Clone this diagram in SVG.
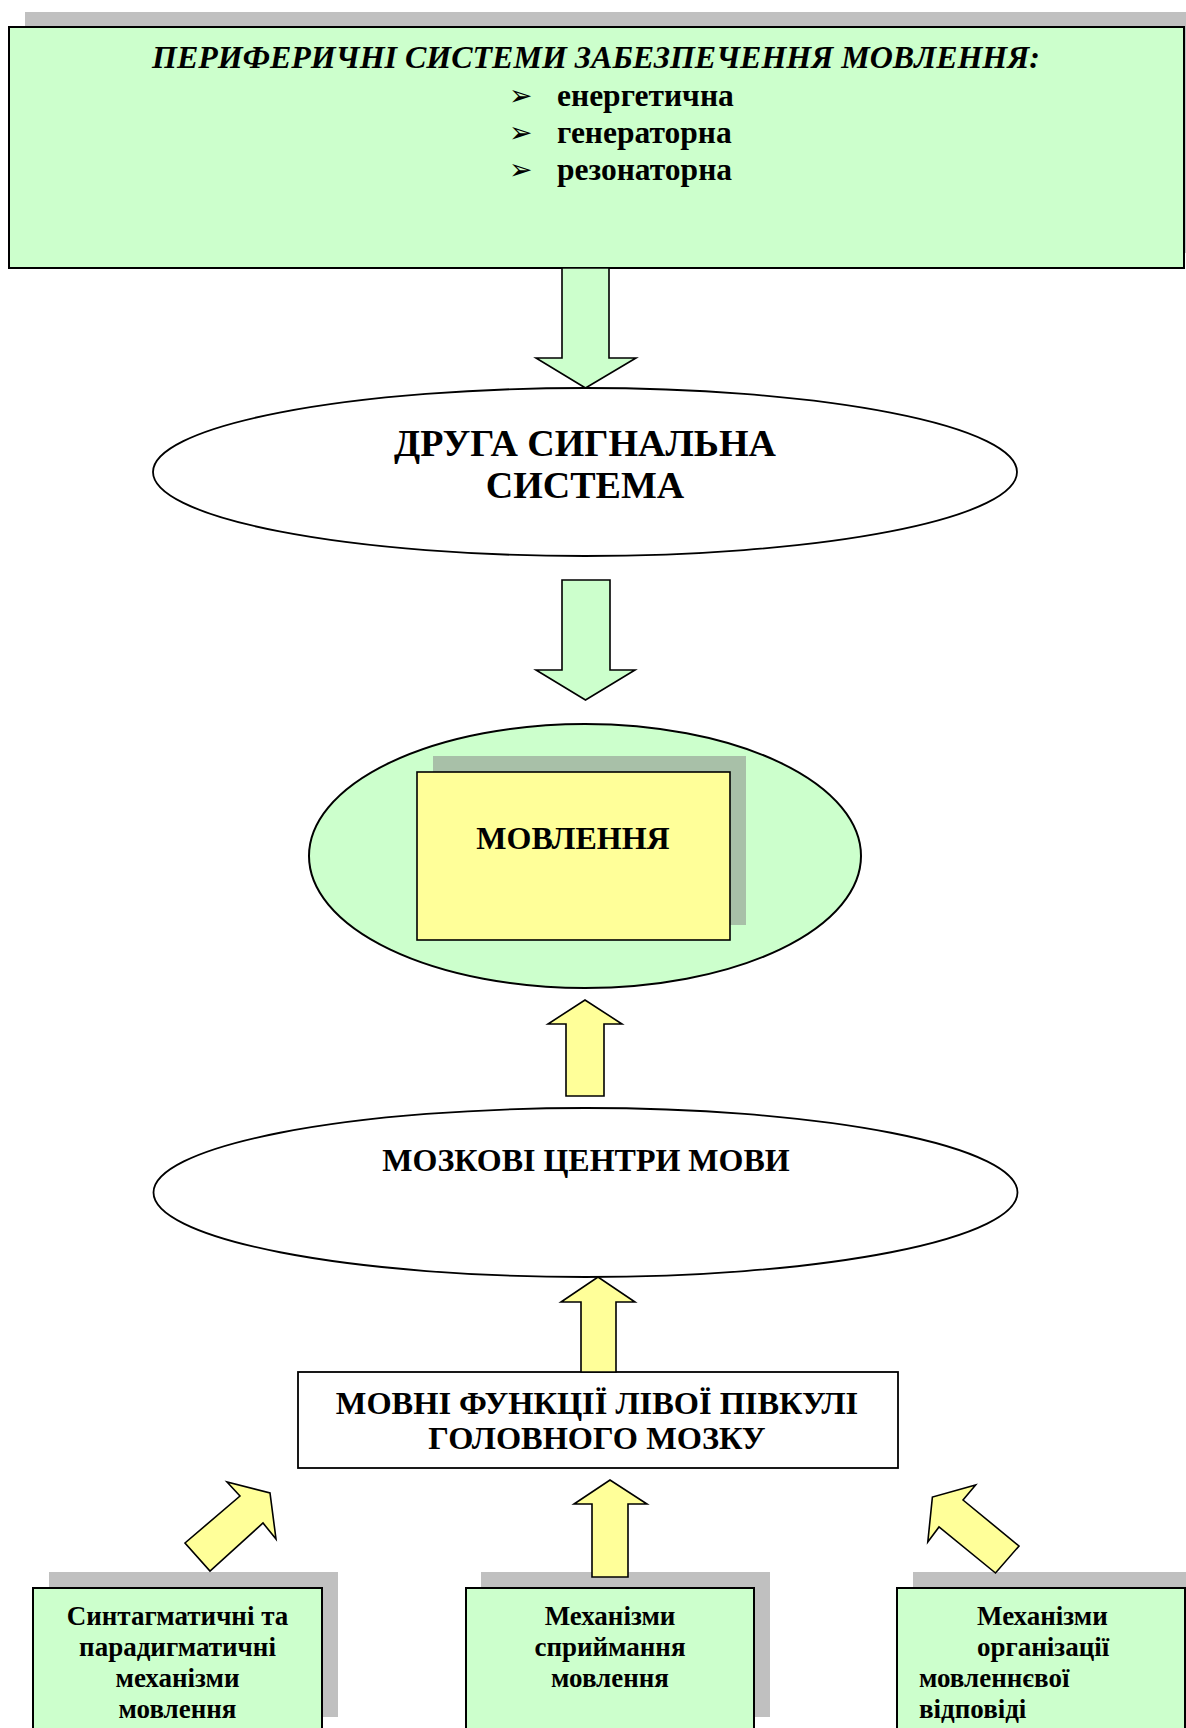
<svg xmlns="http://www.w3.org/2000/svg" width="1186" height="1728" viewBox="0 0 1186 1728">
<style>
.t{font-family:"Liberation Serif","Times New Roman",serif;font-weight:bold;fill:#000}
.c{text-anchor:middle}
.b{font-family:"DejaVu Sans",sans-serif;fill:#000}
.g{fill:#ccffcc;stroke:#000;stroke-width:2}
.y{fill:#ffff99;stroke:#000;stroke-width:1.6}
.ga{fill:#ccffcc;stroke:#000;stroke-width:1.6}
.w{fill:#fff;stroke:#000;stroke-width:1.8}
.sh{fill:#c0c0c0}
</style>
<rect width="1186" height="1728" fill="#fff"/>
<g id="peripheral">
<rect class="sh" x="25" y="12" width="1175" height="241"/>
<rect class="g" x="9" y="27" width="1175" height="241"/>
<text class="t c" x="596" y="68" font-size="32" font-style="italic">ПЕРИФЕРИЧНІ СИСТЕМИ ЗАБЕЗПЕЧЕННЯ МОВЛЕННЯ:</text>
<text class="b" x="509" y="105" font-size="28">➢</text>
<text class="b" x="509" y="142" font-size="28">➢</text>
<text class="b" x="509" y="179" font-size="28">➢</text>
<text class="t" x="557" y="106" font-size="31.5">енергетична</text>
<text class="t" x="557" y="143" font-size="31.5">генераторна</text>
<text class="t" x="557" y="180" font-size="31.5">резонаторна</text>
</g>
<g id="second-signal">
<ellipse class="w" cx="585" cy="472" rx="432" ry="84"/>
<text class="t c" x="585" y="456" font-size="38">ДРУГА СИГНАЛЬНА</text>
<text class="t c" x="585" y="498" font-size="38">СИСТЕМА</text>
</g>
<g id="speech">
<ellipse class="g" cx="585" cy="856" rx="276" ry="132"/>
<rect x="433" y="756" width="313" height="169" fill="#a8c0a8"/>
<rect class="y" x="417" y="772" width="313" height="168" stroke-width="2"/>
<text class="t c" x="573" y="849" font-size="32">МОВЛЕННЯ</text>
</g>
<g id="brain-centres">
<ellipse class="w" cx="585.5" cy="1192.5" rx="432" ry="84.5"/>
<text class="t c" x="586" y="1171" font-size="32">МОЗКОВІ ЦЕНТРИ МОВИ</text>
</g>
<g id="left-hemisphere">
<rect class="w" x="298" y="1372" width="600" height="96" stroke-width="2"/>
<text class="t c" x="597" y="1414" font-size="32.4">МОВНІ ФУНКЦІЇ ЛІВОЇ ПІВКУЛІ</text>
<text class="t c" x="597" y="1449" font-size="32.4">ГОЛОВНОГО МОЗКУ</text>
</g>
<g id="syntagmatic">
<rect class="sh" x="49" y="1572" width="289" height="145"/>
<rect class="g" x="33" y="1588" width="289" height="160"/>
<text class="t c" x="177.5" y="1625" font-size="27">Синтагматичні та</text>
<text class="t c" x="177.5" y="1656" font-size="27">парадигматичні</text>
<text class="t c" x="177.5" y="1687" font-size="27">механізми</text>
<text class="t c" x="177.5" y="1718" font-size="27">мовлення</text>
</g>
<g id="perception">
<rect class="sh" x="481" y="1572" width="289" height="145"/>
<rect class="g" x="466" y="1588" width="288" height="160"/>
<text class="t c" x="610" y="1625" font-size="27">Механізми</text>
<text class="t c" x="610" y="1656" font-size="27">сприймання</text>
<text class="t c" x="610" y="1687" font-size="27">мовлення</text>
</g>
<g id="response">
<rect class="sh" x="913" y="1572" width="289" height="145"/>
<rect class="g" x="897" y="1588" width="288" height="160"/>
<text class="t" x="977" y="1625" font-size="27">Механізми</text>
<text class="t" x="977" y="1656" font-size="27">організації</text>
<text class="t" x="919" y="1687" font-size="27">мовленнєвої</text>
<text class="t" x="919" y="1718" font-size="27">відповіді</text>
</g>
<g id="connectors">
<polygon class="ga" points="562,268 609,268 609,358 636,358 585.5,388 536,358 562,358"/>
<polygon class="ga" points="562,580 610,580 610,670 635,670 585.5,700 536,670 562,670"/>
<polygon class="y" points="566,1096 604,1096 604,1024 622,1024 585,1000 548,1024 566,1024"/>
<polygon class="y" points="581,1372 616,1372 616,1302 635,1302 598,1277 561,1302 581,1302"/>
<polygon class="y" points="592,1577 628,1577 628,1504 647,1504 610,1480 574,1504 592,1504"/>
<polygon class="y" points="240,1496 227,1482 270,1493 276,1539 263,1523 210,1571 185,1543"/>
<polygon class="y" points="963,1500 975.6,1485 932.4,1497 927.8,1542 939,1527 995.5,1573 1019,1546"/>
</g>
</svg>
